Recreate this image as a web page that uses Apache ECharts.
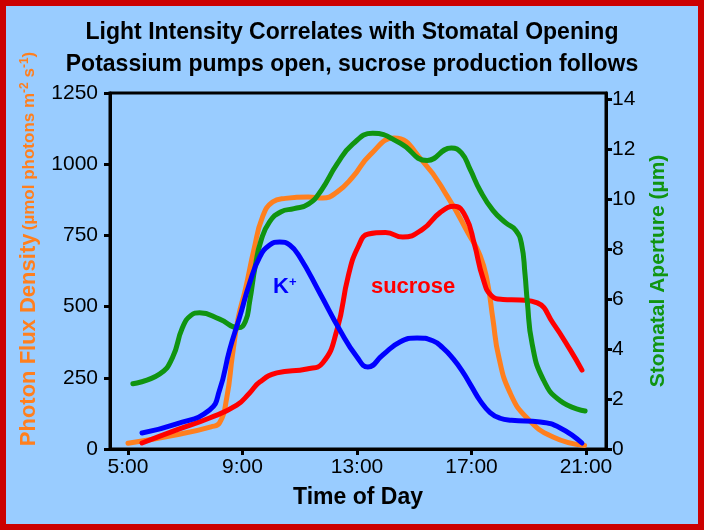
<!DOCTYPE html>
<html><head><meta charset="utf-8">
<script src="https://cdn.jsdelivr.net/npm/echarts@6/dist/echarts.min.js"></script>
<style>html,body{margin:0;padding:0;background:#cc0000;width:704px;height:530px;overflow:hidden}
#c{position:absolute;left:6px;top:6px;width:692px;height:518px;}</style></head>
<body><div id="c"></div>
<script>
const titleLine1 = 'Light Intensity Correlates with Stomatal Opening';
const titleLine2 = 'Potassium pumps open, sucrose production follows';
const xTicks = [5, 9, 13, 17, 21];
const fluxTicks = [0, 250, 500, 750, 1000, 1250];
const apertureTicks = [0, 2, 4, 6, 8, 10, 12, 14];

const photonHours = [5.0, 6.7, 7.9, 8.2, 8.45, 8.65, 8.85, 9.1, 9.4, 9.7, 10.05, 10.5, 11.3, 11.8, 12.3, 12.85, 13.45, 14.3, 15.3, 16.2, 16.9, 17.3, 17.55, 17.75, 17.95, 18.35, 18.95, 19.85, 20.95];
const photonFlux = [20, 50, 78, 92, 180, 330, 460, 560, 700, 815, 867, 880, 885, 881, 902, 955, 1032, 1092, 1010, 880, 755, 680, 590, 455, 325, 197, 108, 42, 12];

const stomaHours = [5.17, 6.1, 6.55, 6.9, 7.2, 7.5, 8.2, 8.85, 9.1, 9.25, 9.45, 9.65, 9.95, 10.35, 10.8, 11.3, 11.75, 12.3, 12.85, 13.55, 14.5, 15.45, 16.3, 16.65, 16.95, 17.3, 17.75, 18.2, 18.55, 18.75, 18.87, 18.95, 19.12, 19.5, 20.1, 20.97];
const stomaAperture = [2.61, 3.0, 3.65, 4.85, 5.35, 5.45, 5.2, 4.85, 5.1, 5.9, 7.35, 8.35, 9.1, 9.5, 9.62, 9.8, 10.35, 11.4, 12.2, 12.64, 12.25, 11.55, 12.05, 11.85, 11.2, 10.35, 9.55, 9.05, 8.75, 8.2, 7.0, 5.9, 4.2, 2.8, 1.93, 1.52];

const kHours = [5.49, 6.7, 7.85, 8.2, 8.55, 8.9, 9.25, 9.6, 9.95, 10.3, 10.65, 11.0, 11.7, 12.4, 13.0, 13.38, 13.9, 14.5, 15.1, 15.65, 16.0, 16.35, 16.7, 17.0, 17.3, 17.65, 18.0, 18.4, 19.4, 20.1, 20.86];
const kLevel = [56, 88, 137, 207, 348, 463, 583, 674, 716, 727, 716, 674, 548, 418, 323, 288, 330, 376, 390, 380, 355, 318, 270, 220, 170, 128, 108, 101, 95, 74, 21];

const sucroseHours = [5.49, 6.7, 7.85, 8.8, 9.25, 9.6, 10.2, 11.25, 11.8, 12.3, 12.7, 13.05, 13.4, 14.0, 14.6, 15.3, 15.9, 16.4, 16.8, 17.1, 17.4, 17.7, 18.1, 18.7, 19.3, 19.85, 20.45, 20.86];
const sucroseLevel = [21, 67, 109, 154, 197, 235, 267, 281, 302, 418, 610, 712, 755, 760, 744, 772, 830, 852, 815, 720, 600, 538, 525, 523, 513, 442, 348, 277];

const zip = (a, b) => a.map((v, i) => [v, b[i]]);
const FONT = '"Liberation Sans", Arial, Helvetica, sans-serif';
const ORANGE = '#ff7f1e', GREEN = '#109410', BLUE = '#0000ff', RED = '#ff0000';

const chart = echarts.init(document.getElementById('c'), null, {renderer: 'canvas'});
const lineSeries = (name, hours, vals, color, yIdx, z) => ({
  name, type: 'line', yAxisIndex: yIdx, data: zip(hours, vals), showSymbol: false, symbol: 'none',
  smooth: 0.5, z,
  lineStyle: {color, width: 5, cap: 'round', join: 'round'}, silent: true, animation: false
});

chart.setOption({
  backgroundColor: '#99ccff',
  animation: false,
  textStyle: {fontFamily: FONT},
  title: [
    {text: titleLine1, left: 'center', top: 12, padding: 0, textStyle: {fontFamily: FONT, fontSize: 23, fontWeight: 'bold', color: '#000', lineHeight: 30}},
    {text: titleLine2, left: 'center', top: 44, padding: 0, textStyle: {fontFamily: FONT, fontSize: 23, fontWeight: 'bold', color: '#000', lineHeight: 30}}
  ],
  grid: {left: 104, right: 92, top: 87, bottom: 75, show: true, borderColor: '#000', borderWidth: 3, backgroundColor: 'transparent'},
  xAxis: {
    type: 'value', min: 4.371, max: 21.7,
    name: 'Time of Day', nameLocation: 'middle', nameGap: 37,
    nameTextStyle: {fontFamily: FONT, fontSize: 23, fontWeight: 'bold', color: '#000'},
    axisLine: {show: true, lineStyle: {color: '#000', width: 3}},
    axisTick: {show: true, customValues: xTicks, length: 6, lineStyle: {color: '#000', width: 3}},
    axisLabel: {customValues: xTicks, formatter: v => v + ':00', fontFamily: FONT, fontSize: 21, color: '#000', margin: 8},
    splitLine: {show: false}
  },
  yAxis: [
    {
      type: 'value', position: 'left', min: 0, max: 1250, interval: 250,
      name: '{a|Photon Flux Density} {b|(µmol photons m}{s|-2}{b| s}{s|-1}{b|)}',
      nameLocation: 'middle', nameGap: 59,
      nameTextStyle: {
        color: ORANGE, padding: [0, 0, 0, 44],
        rich: {
          a: {fontFamily: FONT, fontSize: 22, fontWeight: 'bold', color: ORANGE},
          b: {fontFamily: FONT, fontSize: 17, fontWeight: 'bold', color: ORANGE},
          s: {fontFamily: FONT, fontSize: 12, fontWeight: 'bold', color: ORANGE, verticalAlign: 'top'}
        }
      },
      axisLine: {show: true, lineStyle: {color: '#000', width: 3}},
      axisTick: {show: true, length: 6, lineStyle: {color: '#000', width: 3}},
      axisLabel: {show: true, fontFamily: FONT, fontSize: 21, color: '#000', margin: 12,
        customValues: fluxTicks, formatter: v => String(v)},
      splitLine: {show: false}
    },
    {
      type: 'value', position: 'right', min: 0, max: 14.25,
      name: 'Stomatal Aperture (µm)', nameLocation: 'middle', nameGap: 42,
      nameTextStyle: {fontFamily: FONT, fontSize: 21, fontWeight: 'bold', color: GREEN},
      axisLine: {show: true, lineStyle: {color: '#000', width: 3}},
      axisTick: {show: true, customValues: apertureTicks, length: 6, lineStyle: {color: '#000', width: 3}},
      axisLabel: {show: true, customValues: apertureTicks, fontFamily: FONT, fontSize: 21, color: '#000', margin: 6,
        formatter: v => String(v)},
      splitLine: {show: false}
    }
  ],
  series: [
    lineSeries('Photon flux', photonHours, photonFlux, ORANGE, 0, 2),
    lineSeries('Sucrose', sucroseHours, sucroseLevel, RED, 0, 3),
    lineSeries('Stomatal aperture', stomaHours, stomaAperture, GREEN, 1, 4),
    lineSeries('K+', kHours, kLevel, BLUE, 0, 5)
  ]
});

const kPos = chart.convertToPixel({xAxisIndex: 0, yAxisIndex: 0}, [10.48, 569]);
const sPos = chart.convertToPixel({xAxisIndex: 0, yAxisIndex: 0}, [14.96, 569]);
chart.setOption({
  graphic: [
    {type: 'text', x: kPos[0], y: kPos[1], z: 10, style: {
      text: '{k|K}{p|+}', align: 'center', verticalAlign: 'middle',
      rich: {k: {fontFamily: FONT, fontSize: 22, fontWeight: 'bold', fill: BLUE},
             p: {fontFamily: FONT, fontSize: 13, fontWeight: 'bold', fill: BLUE, verticalAlign: 'top'}}}},
    {type: 'text', x: sPos[0], y: sPos[1], z: 10, style: {
      text: 'sucrose', align: 'center', verticalAlign: 'middle',
      fontFamily: FONT, fontSize: 22, fontWeight: 'bold', fill: RED}}
  ]
});
</script></body></html>
